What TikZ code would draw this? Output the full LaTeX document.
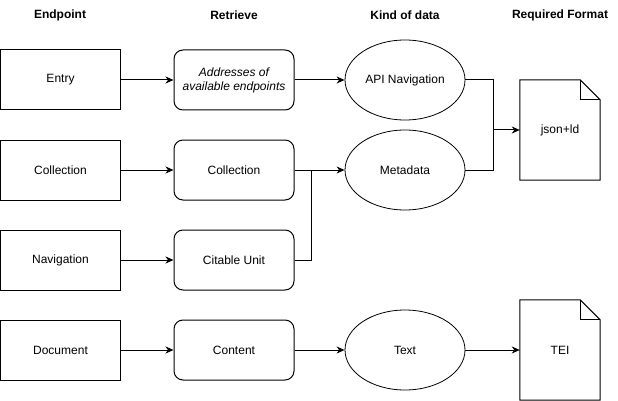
\documentclass[tikz,border=0pt]{standalone}
\usepackage{fontspec}
\setmainfont{Liberation Sans}
\usetikzlibrary{arrows.meta,shapes.geometric}
\begin{document}
\begin{tikzpicture}[x=1pt,y=-1pt,
  every node/.style={font=\fontsize{12}{14}\selectfont, align=center, inner sep=0pt},
  hdr/.style={font=\fontsize{12}{14}\selectfont\bfseries},
  epbox/.style={draw, line width=1pt, minimum width=120pt, minimum height=60pt},
  rbox/.style={draw, line width=1pt, rounded corners=9pt, minimum width=120pt, minimum height=60pt},
  ell/.style={draw, ellipse, line width=0.8pt, minimum width=120pt, minimum height=80pt},
  docn/.style={minimum width=80pt, minimum height=100pt},
  conn/.style={line width=1pt, -{Stealth[length=8pt,width=7pt,inset=2.5pt]}},
  line/.style={line width=1pt}]
\useasboundingbox (0,0) rectangle (618,401);

\node[hdr] (h1) at (60,15) {Endpoint};
\node[hdr] (h2) at (234,15) {Retrieve};
\node[hdr] (h3) at (405,15) {Kind of data};
\node[hdr] (h4) at (560,15) {Required Format};

\node[epbox] (entry) at (60.5,80) {Entry};
\node[epbox] (coll) at (60.5,170) {Collection};
\node[epbox] (nav) at (60.5,260) {Navigation};
\node[epbox] (docu) at (60.5,350) {Document};

\node[rbox] (addr) at (234,80) {\itshape Addresses of\\\itshape available endpoints};
\node[rbox] (collr) at (234,170) {Collection};
\node[rbox] (cite) at (234,260) {Citable Unit};
\node[rbox] (content) at (234,350) {Content};

\node[ell] (api) at (405,80) {API Navigation};
\node[ell] (meta) at (405,170) {Metadata};
\node[ell] (text) at (405,350) {Text};

\node[docn] (json) at (560,130) {json+ld};
\node[docn] (tei) at (560,350) {TEI};
\foreach \d in {json,tei}{
  \draw[line width=1pt, line join=miter] (\d.north west) -- ([xshift=-20pt]\d.north east) -- ([yshift=-20pt]\d.north east) -- (\d.south east) -- (\d.south west) -- cycle;
  \draw[line width=1pt] ([xshift=-20pt]\d.north east) -- ([xshift=-20pt,yshift=-20pt]\d.north east) -- ([yshift=-20pt]\d.north east);
}

\coordinate (j1) at (311,170);
\coordinate (jb) at (493,170);
\coordinate (jm) at (493,130);

\draw[conn] (entry) -- (addr);
\draw[conn] (coll) -- (collr);
\draw[conn] (nav) -- (cite);
\draw[conn] (docu) -- (content);
\draw[conn] (addr) -- (api);
\draw[conn] (collr) -- (meta);
\draw[conn] (content) -- (text);
\draw[line] (cite.east) -| (j1);
\draw[line] (api.east) -| (jb) -- (meta.east);
\draw[conn] (jm) -- (json.west);
\draw[conn] (text) -- (tei);
\end{tikzpicture}
\end{document}
